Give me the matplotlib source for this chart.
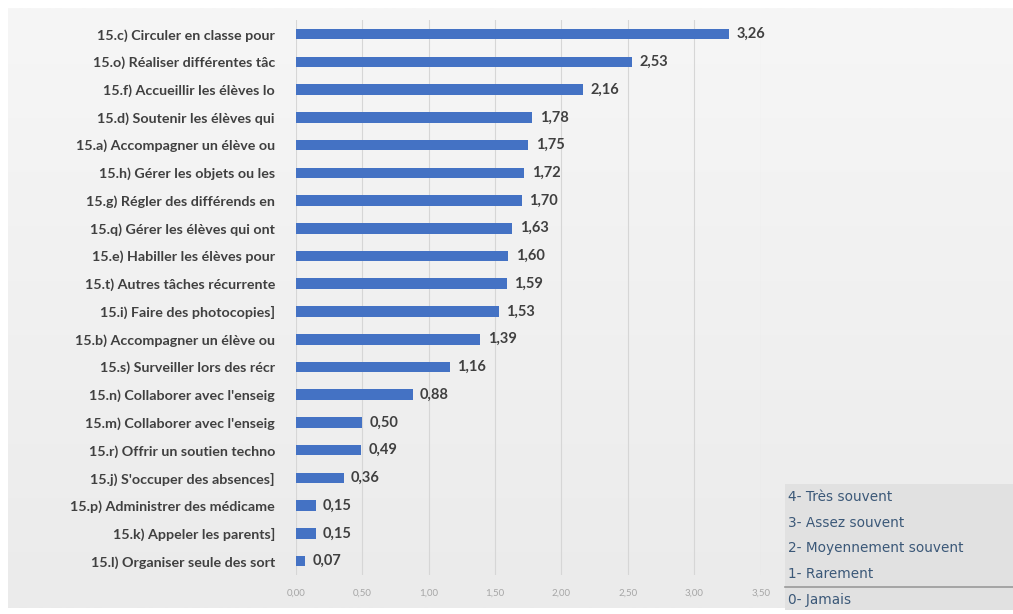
import numpy as np
import matplotlib
matplotlib.use("Agg")
import matplotlib.pyplot as plt
from matplotlib.patches import Rectangle

labels = [
    "15.c) Circuler en classe pour",
    "15.o) Réaliser différentes tâc",
    "15.f) Accueillir les élèves lo",
    "15.d) Soutenir les élèves qui",
    "15.a) Accompagner un élève ou",
    "15.h) Gérer les objets ou les",
    "15.g) Régler des différends en",
    "15.q) Gérer les élèves qui ont",
    "15.e) Habiller les élèves pour",
    "15.t) Autres tâches récurrente",
    "15.i) Faire des photocopies]",
    "15.b) Accompagner un élève ou",
    "15.s) Surveiller lors des récr",
    "15.n) Collaborer avec l'enseig",
    "15.m) Collaborer avec l'enseig",
    "15.r) Offrir un soutien techno",
    "15.j) S'occuper des absences]",
    "15.p) Administrer des médicame",
    "15.k) Appeler les parents]",
    "15.l) Organiser seule des sort",
]
values = [3.26, 2.53, 2.16, 1.78, 1.75, 1.72, 1.70, 1.63, 1.60, 1.59,
          1.53, 1.39, 1.16, 0.88, 0.50, 0.49, 0.36, 0.15, 0.15, 0.07]
xticks = [0, 0.5, 1.0, 1.5, 2.0, 2.5, 3.0, 3.5]
scale = ["4- Très souvent", "3- Assez souvent", "2- Moyennement souvent",
         "1- Rarement", "0- Jamais"]

plt.rcParams["font.family"] = ["Lato", "DejaVu Sans"]


def fr(v):
    return f"{v:.2f}".replace(".", ",")


fig = plt.figure(figsize=(10.13, 6.14), dpi=100)
fig.patch.set_facecolor("white")

# light grey gradient backdrop
bg = fig.add_axes([0.008, 0.01, 0.992, 0.977], zorder=-10)
grad = np.linspace(0, 1, 256).reshape(-1, 1)
bg.imshow(grad, aspect="auto", cmap=matplotlib.colors.LinearSegmentedColormap.from_list(
    "g", ["#f6f6f6", "#ebebeb"]), extent=[0, 1, 0, 1])
bg.axis("off")

ax = fig.add_axes([0.292, 0.0635, 0.459, 0.9035])
ax.set_facecolor("none")
y = np.arange(len(labels))
ax.barh(y, values, height=0.38, color="#4472C4", zorder=3)
for yi, v in zip(y, values):
    ax.text(v + 0.055, yi, fr(v), va="center", ha="left", fontsize=10.5,
            color="#404040", fontweight="bold")

ax.set_ylim(len(labels) - 0.5, -0.5)
ax.set_xlim(0, 3.5)
ax.set_yticks(y)
ax.set_yticklabels(labels, fontsize=10.3, color="#404040", fontweight="bold")
ax.set_xticks(xticks)
ax.set_xticklabels([fr(t) for t in xticks], fontsize=7, color="#a6a6a6")
ax.tick_params(axis="both", length=0)
ax.tick_params(axis="y", pad=15)
ax.tick_params(axis="x", pad=10)
ax.grid(axis="x", color="#d6d6d6", lw=0.8, zorder=0)
for s in ax.spines.values():
    s.set_visible(False)

# scale legend box, bottom right
fig.patches.append(Rectangle((785 / 1013, 4 / 614), 228 / 1013, 126 / 614,
                             transform=fig.transFigure, facecolor="#e1e1e1",
                             edgecolor="none", zorder=1))
fig.lines.append(plt.Line2D([785 / 1013, 1.0], [1 - 587 / 614] * 2,
                            transform=fig.transFigure, color="#9a9a9a", lw=1.2))
for i, s in enumerate(scale):
    fig.text(788 / 1013, 1 - (497 + i * 25.7) / 614, s, fontsize=9.8,
             family=["DejaVu Sans"], color="#3b5878", va="center", ha="left")

fig.savefig("out.png", dpi=100)
